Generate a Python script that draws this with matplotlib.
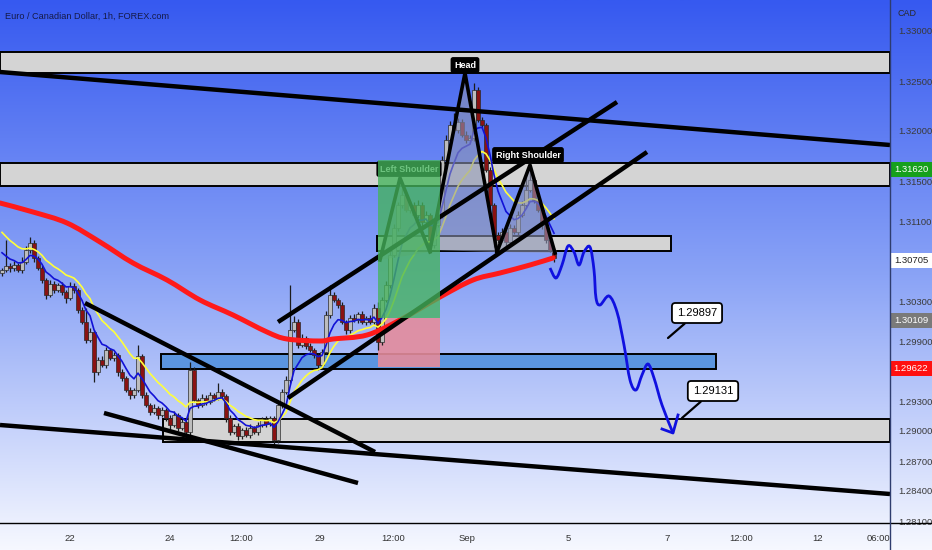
import numpy as np
import matplotlib
matplotlib.use("Agg")
import matplotlib.pyplot as plt
import matplotlib.colors as mcolors
import matplotlib.transforms as mtransforms
from matplotlib.patches import Rectangle, Polygon, PathPatch
from matplotlib.path import Path
from matplotlib.lines import Line2D

plt.rcParams['font.family'] = ['Liberation Sans Narrow', 'Liberation Sans', 'DejaVu Sans']

# ---------------- data ----------------
title = "Euro / Canadian Dollar, 1h, FOREX.com"
first_open = 1.3058
close = [
    1.3061, 1.3065, 1.3063, 1.3066, 1.3061, 1.3069, 1.3081, 1.3088, 1.3073, 1.3063,
    1.3051, 1.3036, 1.3047, 1.3041, 1.3046, 1.3039, 1.3033, 1.3045, 1.3041, 1.3021,
    1.3009, 1.2991, 1.2999, 1.2959, 1.2971, 1.2966, 1.2981, 1.2973, 1.2976, 1.2959,
    1.2953, 1.2941, 1.2936, 1.2941, 1.2975, 1.2936, 1.2926, 1.2919, 1.2923, 1.2916,
    1.2921, 1.2913, 1.2906, 1.2916, 1.2903, 1.2909, 1.2899, 1.2961, 1.2931, 1.2926,
    1.2933, 1.2929, 1.2936, 1.2933, 1.2939, 1.2935, 1.2913, 1.2899, 1.2905, 1.2895,
    1.2901, 1.2896, 1.2903, 1.2899, 1.2906, 1.2911, 1.2907, 1.2913, 1.2891, 1.2926,
    1.2939, 1.2951, 1.3001, 1.3009, 1.2986, 1.2993, 1.2985, 1.2981, 1.2976, 1.2966,
    1.2979, 1.3016, 1.3036, 1.3031, 1.3026, 1.3009, 1.3001, 1.3013, 1.3011, 1.3017,
    1.3009, 1.3013, 1.3009, 1.3023, 1.2989, 1.3031, 1.3046, 1.3076, 1.3103, 1.3126,
    1.3136, 1.3121, 1.3126, 1.3116, 1.3126, 1.3109, 1.3116, 1.3086, 1.3106, 1.3116,
    1.3171, 1.3191, 1.3206, 1.3201, 1.3209, 1.3196, 1.3191, 1.3193, 1.3241, 1.3211,
    1.3206, 1.3161, 1.3126, 1.3096, 1.3091, 1.3099, 1.3089, 1.3103, 1.3099, 1.3116,
    1.3126, 1.3141, 1.3151, 1.3131, 1.3121, 1.3106, 1.3091, 1.3081, 1.3073]
# wick lengths in pips
up_wick = [
    2, 26, 3, 4, 2, 5, 4, 6, 3, 2,
    3, 2, 4, 3, 2, 3, 2, 4, 3, 2,
    3, 14, 4, 2, 3, 4, 3, 2, 3, 2,
    3, 2, 3, 2, 11, 2, 3, 2, 4, 2,
    3, 2, 3, 4, 2, 3, 2, 8, 3, 2,
    4, 3, 3, 2, 9, 3, 2, 3, 2, 3,
    2, 3, 4, 2, 3, 3, 4, 2, 2, 3,
    3, 4, 45, 6, 3, 4, 2, 3, 2, 2,
    3, 4, 10, 3, 2, 3, 2, 3, 4, 2,
    3, 2, 3, 4, 6, 3, 4, 5, 4, 3,
    7, 3, 4, 3, 5, 3, 4, 2, 3, 4,
    4, 5, 4, 12, 4, 3, 4, 3, 7, 3,
    3, 2, 3, 2, 3, 4, 3, 4, 3, 4,
    4, 18, 13, 3, 4, 3, 2, 3, 2]
down_wick = [
    3, 2, 4, 3, 2, 3, 2, 3, 4, 2,
    3, 4, 2, 3, 2, 3, 5, 2, 3, 3,
    2, 3, 2, 10, 3, 2, 3, 2, 3, 4,
    3, 2, 4, 3, 2, 3, 2, 3, 2, 4,
    2, 3, 4, 2, 3, 2, 4, 3, 2, 3,
    2, 3, 2, 3, 2, 3, 4, 3, 2, 4,
    3, 2, 3, 2, 3, 2, 3, 2, 6, 3,
    3, 2, 3, 2, 3, 2, 3, 2, 3, 5,
    3, 2, 3, 2, 3, 2, 4, 3, 2, 3,
    2, 3, 2, 3, 8, 3, 2, 3, 2, 3,
    3, 2, 3, 2, 3, 4, 2, 7, 3, 2,
    3, 2, 3, 2, 3, 2, 3, 2, 3, 2,
    3, 2, 4, 12, 3, 2, 4, 3, 2, 3,
    2, 3, 2, 3, 2, 4, 3, 2, 4]

fast_period, fast_seed = 7, 1.3084
slow_period, slow_seed = 15, 1.3104

ma200_x = [-0.5, 7.75, 16.25, 24.5, 32.75, 41.25, 49.5, 57.75, 66.25, 71.25,
           79.5, 82.75, 91.25, 99.5, 109.5, 117.75, 124.5, 132, 137.75]
ma200_y = [1.3128, 1.3119, 1.3108, 1.3089, 1.3068, 1.3051, 1.3031, 1.3016, 1.2999, 1.2992,
           1.2990, 1.2992, 1.2996, 1.3011, 1.3034, 1.3051, 1.3058, 1.3066, 1.3073]

zone_x0 = [-0.5, -0.5, 93.75, 39.75, 40.25]
zone_x1 = [222, 222, 167.25, 178.5, 222]
zone_top = [1.3279, 1.3168, 1.3095, 1.2977, 1.2912]
zone_bot = [1.3258, 1.3145, 1.3080, 1.2962, 1.2889]
zone_col = ['#d4d4d4', '#d4d4d4', '#d4d4d4', '#5b95e0', '#d4d4d4']

tl_x0 = [-0.5, 69, 71.5, 20.75, 25.5, -0.5]
tl_y0 = [1.3259, 1.3009, 1.2933, 1.3028, 1.2918, 1.2906]
tl_x1 = [222, 153.75, 161.25, 93.25, 89, 222]
tl_y1 = [1.3186, 1.3229, 1.3179, 1.2879, 1.2848, 1.2837]

ls_x, ls_y = [94.5, 99.5, 107], [1.3071, 1.3153, 1.3079]
head_x, head_y = [107, 115.75, 123.75], [1.3081, 1.3258, 1.3079]
rs_x, rs_y = [123.75, 132, 138.25], [1.3079, 1.3166, 1.3078]

pos_x0, pos_x1 = 94, 109.5
pos_tp, pos_entry, pos_sl = 1.3171, 1.3013, 1.2964

proj_x = [137, 138.5, 140, 141.5, 143, 144.25, 145.5, 147, 148, 148.5, 149.5,
          151.75, 153.75, 155.5, 157, 158.5, 160, 161.5, 163, 165, 167.75]
proj_y = [1.3063, 1.3053, 1.3066, 1.3085, 1.3079, 1.3066, 1.3079, 1.3084, 1.3061, 1.3033, 1.3026,
          1.3035, 1.3019, 1.2986, 1.2951, 1.2941, 1.2956, 1.2967, 1.2953, 1.2926, 1.2898]
arrow_x, arrow_y = [165, 167.75, 169], [1.2902, 1.2898, 1.2916]

callout_text = ["1.29897", "1.29131"]
callout_xy = [(166.5, 1.2993), (170, 1.2913)]
callout_txt_xy = [(173.75, 1.3018), (177.75, 1.2940)]

ytick_vals = [1.33, 1.325, 1.32, 1.315, 1.311, 1.303, 1.299, 1.293, 1.290, 1.287, 1.284, 1.281]
ytick_labels = ["1.33000", "1.32500", "1.32000", "1.31500", "1.31100", "1.30300",
                "1.29900", "1.29300", "1.29000", "1.28700", "1.28400", "1.28100"]
xtick_pos = [17, 42, 59.75, 79.5, 97.75, 116.25, 141.5, 166.25, 184.75, 204, 219]
xtick_labels = ["22", "24", "12:00", "29", "12:00", "Sep", "5", "7", "12:00", "12", "06:00"]

price_tags = [1.31620, 1.30705, 1.30109, 1.29622]
price_tag_fc = ['#16a01c', '#ffffff', '#7a7a7a', '#ff1010']
price_tag_tc = ['white', '#222222', 'white', 'white']

# ---------------- figure ----------------
fig = plt.figure(figsize=(9.32, 5.5), dpi=100)
bg = fig.add_axes([0, 0, 1, 1], zorder=-10)
cmap = mcolors.LinearSegmentedColormap.from_list('bg', ['#3659f0', '#8aa3f6', '#f6f8ff'])
bg.imshow(np.linspace(0, 1, 256).reshape(-1, 1), aspect='auto', cmap=cmap,
          extent=[0, 1, 0, 1], origin='upper')
bg.axis('off')

ax = fig.add_axes([0, 27 / 550, 890 / 932, 523 / 550])
ax.patch.set_alpha(0)
ax.set_xlim(-0.5, 222)
ax.set_ylim(1.2808, 1.3331)
for s in ax.spines.values():
    s.set_visible(False)

# zones
for x0, x1, t, b, c in zip(zone_x0, zone_x1, zone_top, zone_bot, zone_col):
    ax.add_patch(Rectangle((x0, b), x1 - x0, t - b, facecolor=c, edgecolor='black',
                           lw=1.4, zorder=1))

# stop box (pink)
ax.add_patch(Rectangle((pos_x0, pos_sl), pos_x1 - pos_x0, pos_entry - pos_sl,
                       facecolor='#e48c9c', edgecolor='none', alpha=0.9, zorder=1.5))

# candles
n = len(close)
idx = np.arange(n)
opens = np.array([first_open] + close[:-1])
closes = np.array(close)
highs = np.maximum(opens, closes) + np.array(up_wick) * 1e-4
lows = np.minimum(opens, closes) - np.array(down_wick) * 1e-4
ax.vlines(idx, lows, highs, colors='#1c1c1c', lw=0.9, zorder=3)
bull = closes >= opens
body_h = np.maximum(np.abs(closes - opens), 0.00008)
ax.bar(idx[bull], body_h[bull], bottom=np.minimum(opens, closes)[bull], width=0.8,
       color='#bdbdbd', edgecolor='#2a2a2a', lw=0.5, zorder=3.5)
ax.bar(idx[~bull], body_h[~bull], bottom=np.minimum(opens, closes)[~bull], width=0.8,
       color='#8a1212', edgecolor='#2a2a2a', lw=0.5, zorder=3.5)


def ema(vals, period, seed):
    a = 2 / (period + 1)
    v = seed
    out = []
    for x in vals:
        v = v + a * (x - v)
        out.append(v)
    return out


ax.plot(idx, ema(close, slow_period, slow_seed), color='#ffff3a', lw=1.2, zorder=4)
ax.plot(idx, ema(close, fast_period, fast_seed), color='#1212d6', lw=1.2, zorder=4.2)


def smooth_path(xs, ys):
    pts = np.column_stack([xs, ys]).astype(float)
    verts = [pts[0]]
    codes = [Path.MOVETO]
    m = len(pts)
    for i in range(m - 1):
        p0 = pts[i - 1] if i > 0 else pts[i]
        p1, p2 = pts[i], pts[i + 1]
        p3 = pts[i + 2] if i + 2 < m else pts[i + 1]
        verts += [p1 + (p2 - p0) / 6, p2 - (p3 - p1) / 6, p2]
        codes += [Path.CURVE4] * 3
    return Path(verts, codes)


ax.add_patch(PathPatch(smooth_path(ma200_x, ma200_y), fill=False, ec='#ff1a1a', lw=3.6,
                       capstyle='round', zorder=4.5))

# trend lines
for x0, y0, x1, y1 in zip(tl_x0, tl_y0, tl_x1, tl_y1):
    ax.plot([x0, x1], [y0, y1], color='black', lw=3.2, solid_capstyle='butt', zorder=6)

# head & shoulders
for xs, ys in [(ls_x, ls_y), (head_x, head_y), (rs_x, rs_y)]:
    ax.add_patch(Polygon(np.column_stack([xs, ys]), closed=True, facecolor='#8c93b4',
                         edgecolor='none', alpha=0.6, zorder=5))
    ax.plot(xs, ys, color='black', lw=2.6, zorder=6)

lab_kw = dict(ha='center', va='center', color='white', fontsize=6.5, fontweight='bold',
              zorder=7, bbox=dict(boxstyle='round,pad=0.3,rounding_size=0.2', fc='black', ec='black'))
ax.text(115.75, 1.3266, "Head", **lab_kw)
ax.text(131.5, 1.3176, "Right Shoulder", **lab_kw)
ax.text(101.75, 1.3162, "Left Shoulder", **lab_kw)

# target box (green) on top
ax.add_patch(Rectangle((pos_x0, pos_entry), pos_x1 - pos_x0, pos_tp - pos_entry,
                       facecolor='#45b45c', edgecolor='none', alpha=0.78, zorder=8))

# projection
ax.add_patch(PathPatch(smooth_path(proj_x, proj_y), fill=False, ec='#1010e0', lw=2.0, zorder=7))
ax.plot(arrow_x, arrow_y, color='#1010e0', lw=2.0, zorder=7)

for t, xy, txy in zip(callout_text, callout_xy, callout_txt_xy):
    ax.annotate(t, xy=xy, xytext=txy, ha='center', va='center', fontsize=8, color='black',
                zorder=9,
                bbox=dict(boxstyle='round,pad=0.45,rounding_size=0.3', fc='white', ec='black', lw=1.3),
                arrowprops=dict(arrowstyle='-', color='black', lw=1.6, shrinkA=0, shrinkB=0))

# axes ticks
ax.yaxis.tick_right()
ax.set_yticks(ytick_vals, ytick_labels)
ax.tick_params(axis='y', length=0, pad=6, labelsize=6.8, labelcolor='#3a3a3a')
ax.set_xticks(xtick_pos, xtick_labels)
ax.tick_params(axis='x', length=0, pad=8, labelsize=6.8, labelcolor='#333333')

# price tags on the axis
trans = mtransforms.blended_transform_factory(ax.transAxes, ax.transData)
for v, fc, tc in zip(price_tags, price_tag_fc, price_tag_tc):
    ax.add_patch(Rectangle((1.0, v - 0.00075), 0.047, 0.0015, transform=trans, facecolor=fc,
                           edgecolor='none', clip_on=False, zorder=10))
    ax.text(1.0235, v, f"{v:.5f}", transform=trans, ha='center', va='center', fontsize=6.8,
            color=tc, clip_on=False, zorder=11)

fig.add_artist(Line2D([0, 1], [27 / 550, 27 / 550], color='black', lw=1.0))
fig.add_artist(Line2D([890 / 932, 890 / 932], [0, 1], color='#2e3c6e', lw=1.0))
fig.text(897 / 932, 1 - 13 / 550, "CAD", fontsize=6.5, color='#2a2a2a', va='center')
fig.text(5 / 932, 1 - 16 / 550, title, fontsize=6.6, color='#151a48', va='center')

fig.savefig("out.png", dpi=100)
